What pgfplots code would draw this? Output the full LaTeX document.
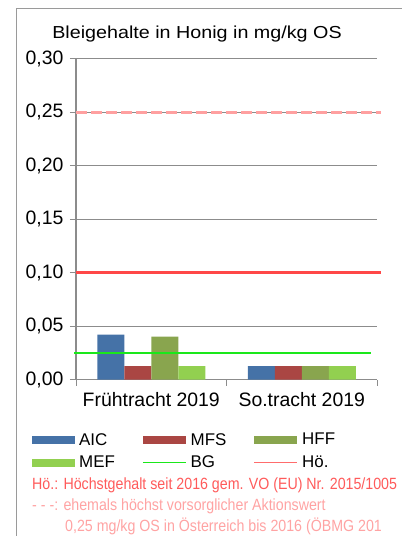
\documentclass[border=0pt]{standalone}
\usepackage{pgfplots}
\pgfplotsset{compat=1.18}
\usepackage{graphicx}
\usepackage{fontspec}
\setmainfont{Liberation Sans}
\definecolor{cAIC}{HTML}{4572A7}
\definecolor{cMFS}{HTML}{AA4643}
\definecolor{cHFF}{HTML}{89A54E}
\definecolor{cMEF}{HTML}{92D050}
\definecolor{cBG}{HTML}{1AE81A}
\definecolor{cHO}{HTML}{FF4747}
\definecolor{cPink}{HTML}{FFA0A0}
\definecolor{cFootA}{HTML}{FF5A5A}
\definecolor{cFootB}{HTML}{FFA3A3}
\definecolor{cGrid}{HTML}{8C8C8C}
\definecolor{cFrame}{HTML}{9A9A9A}
\begin{document}
\begin{tikzpicture}
\useasboundingbox (0bp,0bp) rectangle (402bp,-536bp);
\draw[cFrame, line width=1.5bp] (16.5bp,-536bp) -- (16.5bp,-8.5bp) -- (402bp,-8.5bp);
\node[anchor=base, inner sep=0pt] at (197bp,-39bp) {\scalebox{1}[0.88]{\fontsize{19.8}{22}\selectfont Bleigehalte in Honig in mg/kg OS}};
\begin{axis}[
  at={(151.25bp,-379.5bp)}, anchor=origin,
  scale only axis, width=301bp, height=321bp,
  xmin=-0.5, xmax=1.5, ymin=0, ymax=0.30,
  axis x line*=bottom, axis y line*=left,
  axis line style={cGrid, line width=1.3bp, -},
  xtick={-0.5,0.5,1.5}, xticklabels={},
  extra x ticks={0,1},
  extra x tick labels={Frühtracht 2019, So.tracht 2019},
  extra x tick style={major tick length=0pt, grid=none, xticklabel style={yshift=-9bp}},
  ytick={0,0.05,0.1,0.15,0.2,0.25,0.3},
  ymajorgrids, grid style={cGrid, line width=0.9bp},
  tick style={cGrid, line width=1bp},
  major tick length=6bp, tick align=outside,
  yticklabel style={/pgf/number format/.cd, fixed, fixed zerofill, precision=2, use comma, assume math mode=true, /tikz/.cd, xshift=-3bp},
  ticklabel style={font=\fontsize{19.5}{21}\selectfont, text=black},
  clip=false,
  legend columns=3,
  legend cell align=left,
  legend style={at={(-0.1462,-0.1667)}, anchor=north west, draw=none, fill=none,
    inner sep=0pt, row sep=9.5bp, column sep=0pt,
    font=\fontsize{17}{18}\selectfont, nodes={inner sep=0pt}},
]
\addplot[ybar, bar width=27bp, bar shift=-40.5bp, fill=cAIC, draw=none,
  legend image code/.code={\fill[cAIC] (0bp,-4bp) rectangle (43bp,4bp);}]
  coordinates {(0,0.042) (1,0.0125)};
\addlegendentry{\makebox[67bp][l]{\hspace{4bp}AIC}}
\addplot[ybar, bar width=27bp, bar shift=-13.5bp, fill=cMFS, draw=none,
  legend image code/.code={\fill[cMFS] (0bp,-4bp) rectangle (43bp,4bp);}]
  coordinates {(0,0.0125) (1,0.0125)};
\addlegendentry{\makebox[67bp][l]{\hspace{4bp}MFS}}
\addplot[ybar, bar width=27bp, bar shift=13.5bp, fill=cHFF, draw=none,
  legend image code/.code={\fill[cHFF] (0bp,-4bp) rectangle (43bp,4bp);}]
  coordinates {(0,0.040) (1,0.0125)};
\addlegendentry{\makebox[67bp][l]{\hspace{4bp}HFF}}
\addplot[ybar, bar width=27bp, bar shift=40.5bp, fill=cMEF, draw=none,
  legend image code/.code={\fill[cMEF] (0bp,-4bp) rectangle (43bp,4bp);}]
  coordinates {(0,0.0125) (1,0.0125)};
\addlegendentry{\makebox[67bp][l]{\hspace{4bp}MEF}}
\addplot[cBG, line width=2bp, no marks,
  legend image code/.code={\draw[cBG, line width=1.5bp] (0bp,0bp) -- (43bp,0bp);}]
  coordinates {(-0.513,0.025) (1.46,0.025)};
\addlegendentry{\makebox[67bp][l]{\hspace{4bp}BG}}
\addplot[cHO, line width=2.5bp, no marks,
  legend image code/.code={\draw[cHO!80, line width=1.5bp] (0bp,0bp) -- (43bp,0bp);}]
  coordinates {(-0.5,0.10) (1.527,0.10)};
\addlegendentry{\makebox[67bp][l]{\hspace{4bp}Hö.}}
\addplot[cPink, line width=3bp, no marks, dash pattern=on 11bp off 4bp, forget plot]
  coordinates {(-0.5,0.25) (1.527,0.25)};
\end{axis}
\node[anchor=base west, inner sep=0pt, text=cFootA] at (32bp,-489bp) {\scalebox{0.875}[1]{\fontsize{16.3}{18}\selectfont Hö.: Höchstgehalt seit 2016 gem. VO (EU) Nr. 2015/1005}};
\node[anchor=base west, inner sep=0pt, text=cFootB] at (32bp,-510bp) {\scalebox{0.875}[1]{\fontsize{16.3}{18}\selectfont - - -: ehemals höchst vorsorglicher Aktionswert}};
\node[anchor=base west, inner sep=0pt, text=cFootB] at (65bp,-531bp) {\scalebox{0.875}[1]{\fontsize{16.3}{18}\selectfont 0,25 mg/kg OS in Österreich bis 2016 (ÖBMG 201}};
\end{tikzpicture}
\end{document}
